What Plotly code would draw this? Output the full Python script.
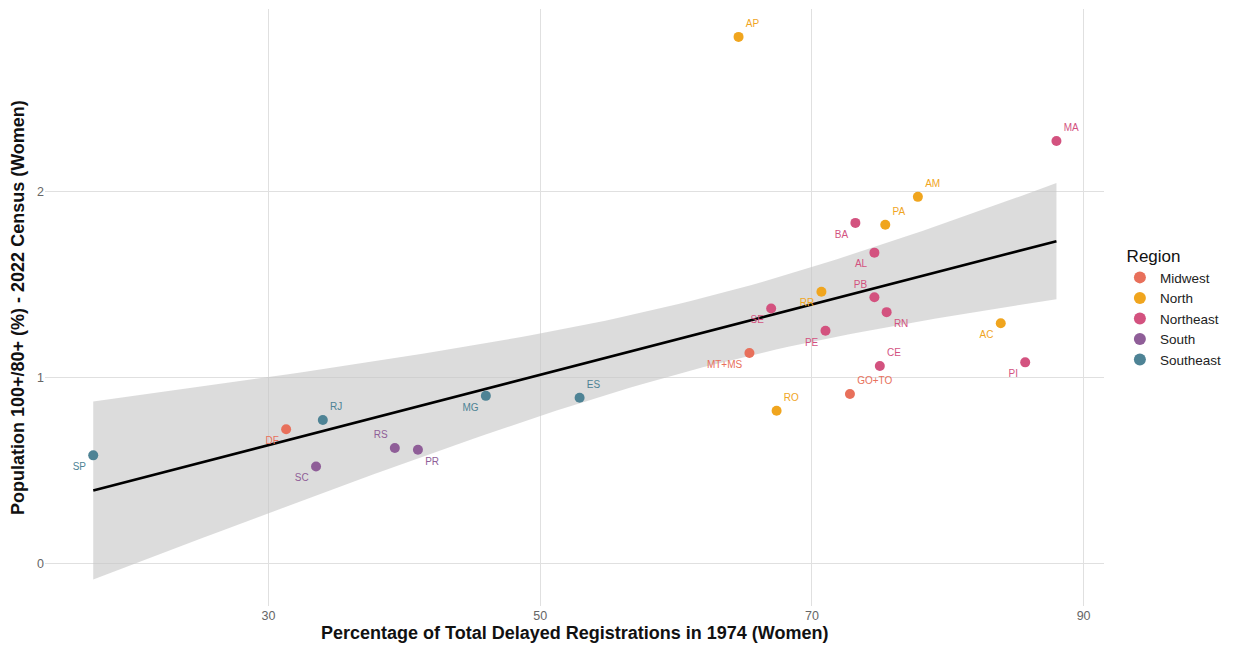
import numpy as np
import plotly.graph_objects as go

states = ["AP", "MA", "AM", "PA", "BA", "AL", "RR", "PB", "SE", "RN", "PE", "MT+MS",
          "CE", "GO+TO", "RO", "AC", "PI", "ES", "MG", "RJ", "DF", "RS", "PR", "SC", "SP"]
regions = ["North", "Northeast", "North", "North", "Northeast", "Northeast", "North", "Northeast",
           "Northeast", "Northeast", "Northeast", "Midwest", "Northeast", "Midwest", "North", "North",
           "Northeast", "Southeast", "Southeast", "Southeast", "Midwest", "South", "South", "South", "Southeast"]
delayed_pct = [64.6, 88.0, 77.8, 75.4, 73.2, 74.6, 70.7, 74.6, 67.0, 75.5, 71.0, 65.4,
               75.0, 72.8, 67.4, 83.9, 85.7, 52.9, 46.0, 34.0, 31.3, 39.3, 41.0, 33.5, 17.1]
pop_ratio = [2.83, 2.27, 1.97, 1.82, 1.83, 1.67, 1.46, 1.43, 1.37, 1.35, 1.25, 1.13,
             1.06, 0.91, 0.82, 1.29, 1.08, 0.89, 0.90, 0.77, 0.72, 0.62, 0.61, 0.52, 0.58]
label_pos = ["top right", "top right", "top right", "top right", "bottom left", "bottom left",
             "bottom left", "top left", "bottom left", "bottom right", "bottom left", "bottom left",
             "top right", "top right", "top right", "bottom left", "bottom left", "top right",
             "bottom left", "top right", "bottom left", "top left", "bottom right", "bottom left",
             "bottom left"]

region_order = ["Midwest", "North", "Northeast", "South", "Southeast"]
region_colors = {"Midwest": "#E8705B", "North": "#F0A51E", "Northeast": "#D3527F",
                 "South": "#8F5E98", "Southeast": "#4E8395"}

x_ticks = [30, 50, 70, 90]
y_ticks = [0, 1, 2]
x_title = "Percentage of Total Delayed Registrations in 1974 (Women)"
y_title = "Population 100+/80+ (%) - 2022 Census (Women)"

x = np.array(delayed_pct)
y = np.array(pop_ratio)
n = len(x)
slope, intercept = np.polyfit(x, y, 1)
resid = y - (slope * x + intercept)
s = np.sqrt(np.sum(resid ** 2) / (n - 2))
t_crit = 2.0687  # t(0.975, df=23)
xs = np.linspace(x.min(), x.max(), 80)
fit = slope * xs + intercept
se = s * np.sqrt(1 / n + (xs - x.mean()) ** 2 / np.sum((x - x.mean()) ** 2))
upper = fit + t_crit * se
lower = fit - t_crit * se

fig = go.Figure()
fig.add_trace(go.Scatter(x=np.concatenate([xs, xs[::-1]]), y=np.concatenate([upper, lower[::-1]]),
                         fill="toself", fillcolor="rgba(196,196,196,0.6)", line=dict(width=0),
                         hoverinfo="skip", showlegend=False))
fig.add_trace(go.Scatter(x=xs, y=fit, mode="lines", line=dict(color="black", width=2.6),
                         showlegend=False, hoverinfo="skip"))

for reg in region_order:
    idx = [i for i, r in enumerate(regions) if r == reg]
    fig.add_trace(go.Scatter(
        x=[delayed_pct[i] for i in idx], y=[pop_ratio[i] for i in idx],
        mode="markers+text", name=reg,
        text=[states[i] for i in idx], textposition=[label_pos[i] for i in idx],
        textfont=dict(size=10, color=region_colors[reg], family="Liberation Sans"),
        marker=dict(size=10, color=region_colors[reg]),
    ))

fig.update_layout(
    width=1233, height=652,
    margin=dict(l=37, r=137, t=1, b=54, autoexpand=False),
    plot_bgcolor="white", paper_bgcolor="white",
    font=dict(family="Liberation Sans", color="#222"),
    legend=dict(title=dict(text="&nbsp;Region", font=dict(size=17, color="#111")),
                font=dict(size=13.5, color="#222"), x=1.015, y=0.5, yanchor="middle",
                xanchor="left", itemsizing="constant", tracegroupgap=0),
    showlegend=True,
    annotations=[
        dict(text="<b>" + x_title + "</b>", xref="paper", yref="paper", x=0.5, y=-0.0452,
             xanchor="center", yanchor="middle", showarrow=False,
             font=dict(size=18, color="#111")),
        dict(text="<b>" + y_title + "</b>", xref="paper", yref="paper", x=-0.026, y=0.5,
             xanchor="center", yanchor="middle", textangle=-90, showarrow=False,
             font=dict(size=18, color="#111")),
    ],
)
fig.update_xaxes(range=[13.55, 91.5], tickvals=x_ticks, showgrid=True, automargin=False,
                 gridcolor="#e0e0e0", gridwidth=1, zeroline=False, showline=False,
                 tickfont=dict(size=12.5, color="#666"), ticks="")
fig.update_yaxes(range=[-0.23, 2.98], tickvals=y_ticks, showgrid=True, automargin=False,
                 gridcolor="#e0e0e0", gridwidth=1, zeroline=False, showline=False,
                 tickfont=dict(size=12.5, color="#666"), ticks="")

fig.write_html("out.html")
